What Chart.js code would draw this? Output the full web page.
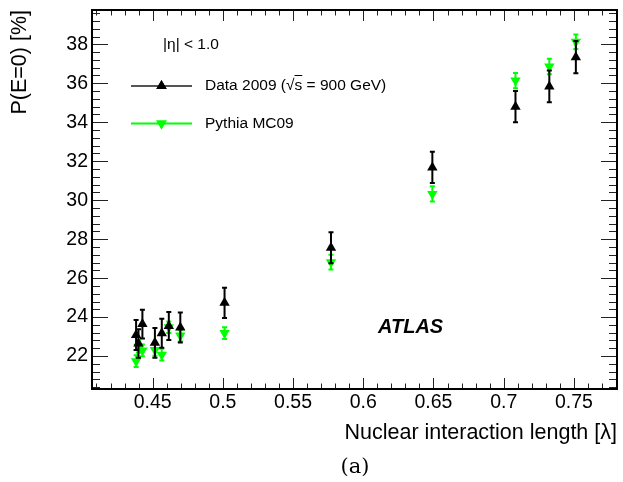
<!DOCTYPE html>
<html>
<head>
<meta charset="utf-8">
<script src="https://cdn.jsdelivr.net/npm/chart.js@4/dist/chart.umd.min.js"></script>
<style>
  html, body { margin: 0; padding: 0; background: #fff; }
  #wrap { position: relative; width: 623px; height: 482px; }
  .txt { position: absolute; font-family: 'Liberation Sans', Arial, sans-serif; color: #000; white-space: nowrap; }
</style>
</head>
<body>
<div id="wrap">
  <canvas id="plot" width="623" height="482"></canvas>
  <div class="txt" style="left:163px; top:35px; font-size:15.5px; line-height:18px;">|η| &lt; 1.0</div>
  <div class="txt" style="left:205px; top:76px; font-size:15.5px; line-height:18px;">Data 2009 (√<span style="text-decoration:overline">s</span> = 900 GeV)</div>
  <div class="txt" style="left:205px; top:114px; font-size:15.5px; line-height:18px;">Pythia MC09</div>
  <div class="txt" style="left:378px; top:314px; font-size:20px; line-height:24px; font-weight:bold; font-style:italic;">ATLAS</div>
  <div class="txt" style="left:300px; width:110px; text-align:center; top:453px; font-size:21px; line-height:26px; font-family:'DejaVu Serif', serif;">(a)</div>
</div>
<script>
// nuclear interaction length of each sample point
const lambda = [0.4382, 0.4399, 0.4427, 0.4516, 0.4565, 0.4615, 0.4697, 0.5012, 0.5770, 0.6492, 0.7084, 0.7325, 0.7514];
// P(E=0) in %, data 2009 and its errors
const dataP = [23.08, 22.65, 23.64, 22.68, 23.17, 23.54, 23.47, 24.73, 27.56, 31.68, 34.80, 35.84, 37.34];
const dataErr = [0.77, 0.73, 0.74, 0.76, 0.74, 0.72, 0.77, 0.78, 0.80, 0.80, 0.80, 0.82, 0.83];
// Pythia MC09
const mcP = [21.74, 22.48, 22.29, 22.31, 22.07, 23.48, 23.05, 23.18, 26.82, 30.32, 36.14, 36.86, 38.13];
const mcErr = [0.30, 0.30, 0.30, 0.30, 0.30, 0.30, 0.30, 0.30, 0.38, 0.39, 0.39, 0.40, 0.37];

const X_MIN = 0.4068;
const X_MAX = 0.7807;
const Y_MIN = 20.31;
const Y_MAX = 39.76;

const font = 'Liberation Sans';
const GREEN = '#00ff00';

const errorBars = {
  id: 'errorBars',
  beforeDatasetDraw(chart, args) {
    const { ctx, scales: { x, y } } = chart;
    const ds = chart.data.datasets[args.index];
    ctx.save();
    ctx.strokeStyle = ds.borderColor;
    ctx.lineWidth = 2;
    ctx.beginPath();
    ds.data.forEach((p, i) => {
      const px = x.getPixelForValue(p.x);
      const top = y.getPixelForValue(p.y + ds.errors[i]);
      const bot = y.getPixelForValue(p.y - ds.errors[i]);
      ctx.moveTo(px, top);
      ctx.lineTo(px, bot);
      ctx.moveTo(px - 2.5, top);
      ctx.lineTo(px + 2.5, top);
      ctx.moveTo(px - 2.5, bot);
      ctx.lineTo(px + 2.5, bot);
    });
    ctx.stroke();
    ctx.restore();
  },
};

// ROOT style frame: ticks inside on all four sides
const frameTicks = {
  id: 'frameTicks',
  afterDraw(chart) {
    const { ctx, chartArea: a, scales: { x, y } } = chart;
    ctx.save();
    ctx.strokeStyle = '#222';
    ctx.lineWidth = 1;
    ctx.beginPath();
    for (let k = 41; k <= 78; k++) {
      const len = k % 5 === 0 ? 11 : 5.5;
      const px = Math.round(x.getPixelForValue(k / 100)) + 0.5;
      ctx.moveTo(px, a.bottom);
      ctx.lineTo(px, a.bottom - len);
      ctx.moveTo(px, a.top);
      ctx.lineTo(px, a.top + len);
    }
    for (let k = 51; k <= 99; k++) {
      const len = k % 5 === 0 ? 16 : 8;
      const py = Math.round(y.getPixelForValue(k * 0.4)) + 0.5;
      ctx.moveTo(a.left, py);
      ctx.lineTo(a.left + len, py);
      ctx.moveTo(a.right, py);
      ctx.lineTo(a.right - len, py);
    }
    ctx.stroke();

    // legend samples
    ctx.lineWidth = 2;
    ctx.strokeStyle = '#555';
    ctx.beginPath();
    ctx.moveTo(131, 86);
    ctx.lineTo(192, 86);
    ctx.stroke();
    ctx.strokeStyle = GREEN;
    ctx.beginPath();
    ctx.moveTo(131, 123.5);
    ctx.lineTo(192, 123.5);
    ctx.stroke();
    ctx.fillStyle = '#000';
    Chart.helpers.drawPoint(ctx, { pointStyle: 'triangle', radius: 6, rotation: 0, borderWidth: 0 }, 161.5, 86);
    ctx.fill();
    ctx.fillStyle = GREEN;
    Chart.helpers.drawPoint(ctx, { pointStyle: 'triangle', radius: 6, rotation: 180, borderWidth: 0 }, 161.5, 123.5);
    ctx.fill();

    ctx.strokeStyle = '#000';
    ctx.lineWidth = 2;
    ctx.strokeRect(a.left, a.top, a.right - a.left, a.bottom - a.top);
    ctx.restore();
  },
};

new Chart(document.getElementById('plot'), {
  type: 'scatter',
  data: {
    datasets: [
      {
        label: 'Data 2009',
        data: lambda.map((l, i) => ({ x: l, y: dataP[i] })),
        errors: dataErr,
        borderColor: '#000',
        backgroundColor: '#000',
        pointStyle: 'triangle',
        pointRadius: 6,
        pointBorderWidth: 0,
        rotation: 0,
      },
      {
        label: 'Pythia MC09',
        data: lambda.map((l, i) => ({ x: l, y: mcP[i] })),
        errors: mcErr,
        borderColor: GREEN,
        backgroundColor: GREEN,
        pointStyle: 'triangle',
        pointRadius: 6,
        pointBorderWidth: 0,
        rotation: 180,
      },
    ],
  },
  options: {
    responsive: false,
    animation: false,
    devicePixelRatio: 1,
    layout: { padding: { top: 10, right: 3, bottom: 33, left: 0 } },
    plugins: { legend: { display: false }, tooltip: { enabled: false } },
    scales: {
      x: {
        type: 'linear',
        min: X_MIN,
        max: X_MAX,
        grid: { display: false, drawTicks: false },
        border: { display: false },
        ticks: {
          stepSize: 0.05,
          includeBounds: false,
          autoSkip: false,
          maxRotation: 0,
          padding: 2,
          color: '#000',
          font: { family: font, size: 19.5 },
          callback: v => String(+v.toFixed(2)),
        },
        title: {
          display: true,
          text: 'Nuclear interaction length [λ]',
          align: 'end',
          color: '#000',
          font: { family: font, size: 21.5 },
          padding: { top: 0, bottom: 3 },
        },
        afterFit(scale) {
          scale.height = 60;
          scale.paddingLeft = 0;
          scale.paddingRight = 0;
        },
      },
      y: {
        type: 'linear',
        min: Y_MIN,
        max: Y_MAX,
        grid: { display: false, drawTicks: false },
        border: { display: false },
        ticks: {
          stepSize: 2,
          includeBounds: false,
          autoSkip: false,
          padding: 4,
          color: '#000',
          font: { family: font, size: 19.5 },
        },
        title: {
          display: true,
          text: 'P(E=0) [%]',
          align: 'end',
          color: '#000',
          font: { family: font, size: 21.5 },
          padding: { top: 7, bottom: 0 },
        },
        afterFit(scale) {
          scale.width = 92;
          scale.paddingTop = 0;
          scale.paddingBottom = 0;
        },
      },
    },
  },
  plugins: [errorBars, frameTicks],
});
</script>
</body>
</html>
